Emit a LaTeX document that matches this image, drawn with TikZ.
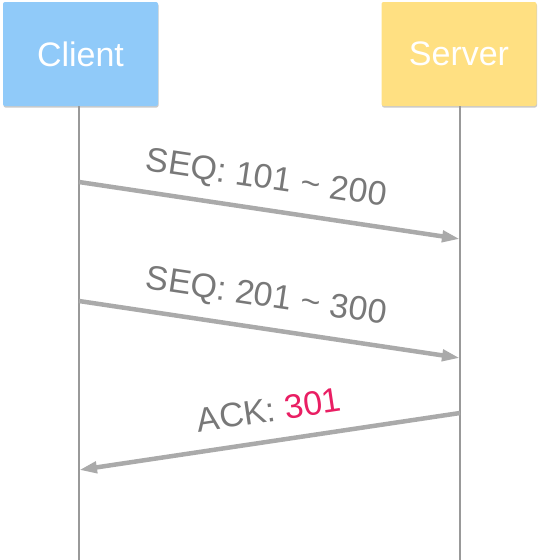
\documentclass[tikz,border=0pt]{standalone}
\usepackage{fontspec}
\setmainfont{Liberation Sans}
\usetikzlibrary{arrows.meta,shadows}
\definecolor{clientblue}{HTML}{90CAF9}
\definecolor{serveryellow}{HTML}{FFE082}
\definecolor{lifegray}{HTML}{999999}
\definecolor{arrowgray}{HTML}{AAAAAA}
\definecolor{textgray}{HTML}{787878}
\definecolor{ackred}{HTML}{E91E63}
\tikzset{
  actor/.style={minimum width=155pt, minimum height=104pt, inner sep=0pt, rounded corners=2pt,
    text=white, font=\fontsize{34}{38}\selectfont,
    drop shadow={shadow xshift=0.5pt, shadow yshift=-1.5pt, opacity=0.35, fill=black!60}},
  lifeline/.style={draw=lifegray, line width=1.4pt},
  msg/.style={draw=arrowgray, line width=4.5pt, -{Triangle[length=18pt,width=11pt]}},
  msglabel/.style={text=textgray, font=\fontsize{34}{38}\selectfont, inner sep=0pt}
}
\begin{document}
\begin{tikzpicture}[x=1pt,y=1pt]
\useasboundingbox (0,0) rectangle (542,-560);
\node[actor, fill=clientblue] (client) at (80.5,-54) {Client};
\node[actor, fill=serveryellow] (server) at (459,-54) {Server};
\coordinate (cend) at (79,-560);
\coordinate (send) at (460,-560);
\draw[lifeline] (client.south -| cend) -- (cend);
\draw[lifeline] (server.south -| send) -- (send);
\coordinate (c1) at (79,-182);
\coordinate (s1) at (460,-239);
\coordinate (c2) at (79,-301);
\coordinate (s2) at (460,-358);
\coordinate (s3) at (460,-413);
\coordinate (c3) at (79,-470);
\draw[msg] (c1) -- (s1);
\draw[msg] (c2) -- (s2);
\draw[msg] (s3) -- (c3);
\node[msglabel, rotate=-8.5] (l1) at (266,-180) {SEQ: 101 \textasciitilde\ 200};
\node[msglabel, rotate=-8.5] (l2) at (266,-298) {SEQ: 201 \textasciitilde\ 300};
\node[msglabel, rotate=8.5] (l3) at (269,-410) {ACK: \textcolor{ackred}{301}};
\end{tikzpicture}
\end{document}
